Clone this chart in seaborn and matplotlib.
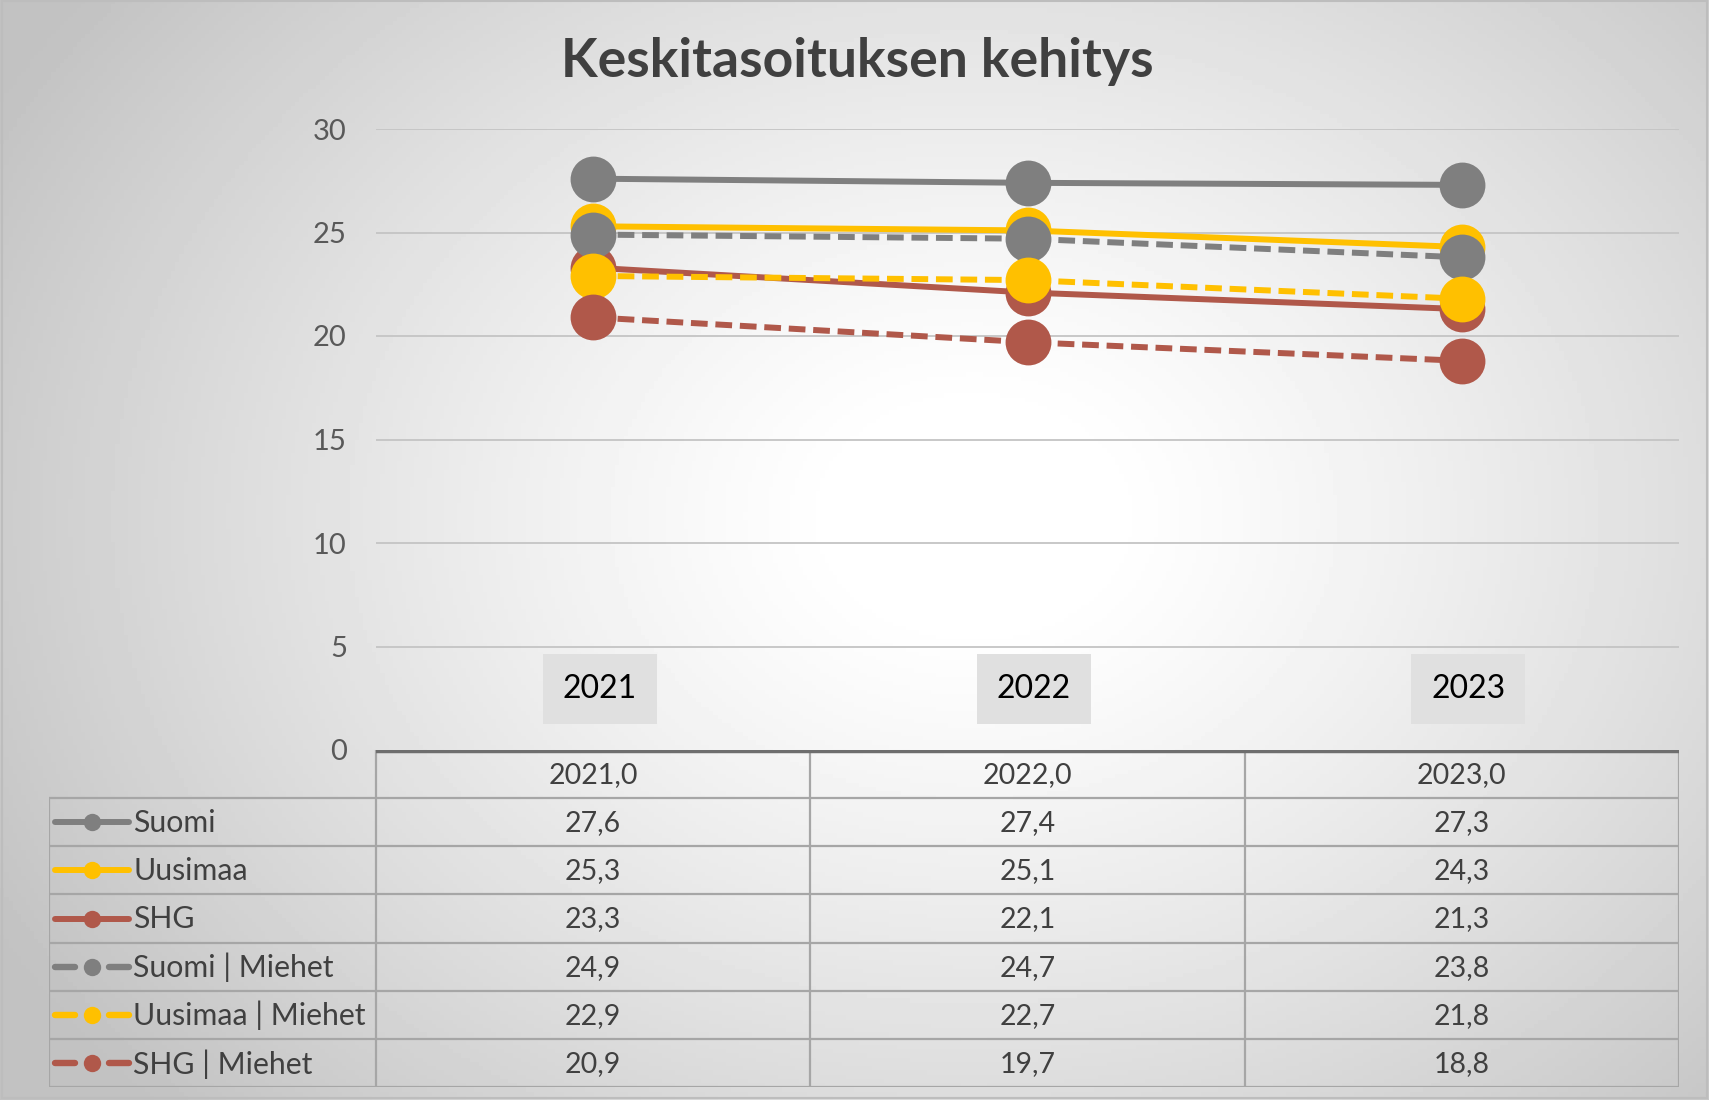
import numpy as np
import pandas as pd
import matplotlib
matplotlib.use("Agg")
import matplotlib.pyplot as plt
from matplotlib.lines import Line2D
import seaborn as sns

# data
years = ["2021", "2022", "2023"]
year_headers = ["2021,0", "2022,0", "2023,0"]
series_names = ["Suomi", "Uusimaa", "SHG", "Suomi | Miehet", "Uusimaa | Miehet", "SHG | Miehet"]
suomi = [27.6, 27.4, 27.3]
uusimaa = [25.3, 25.1, 24.3]
shg = [23.3, 22.1, 21.3]
suomi_miehet = [24.9, 24.7, 23.8]
uusimaa_miehet = [22.9, 22.7, 21.8]
shg_miehet = [20.9, 19.7, 18.8]
yticks = [0, 5, 10, 15, 20, 25, 30]

values = [suomi, uusimaa, shg, suomi_miehet, uusimaa_miehet, shg_miehet]
df = pd.DataFrame(
    [(name, y, v) for name, vals in zip(series_names, values) for y, v in zip(years, vals)],
    columns=["series", "year", "value"],
)

GRAY = "#7f7f7f"
YELLOW = "#ffc000"
RED = "#b0584a"
TEXT = "#404040"
DASH = (2.8, 1.3)
palette = dict(zip(series_names, [GRAY, YELLOW, RED, GRAY, YELLOW, RED]))
dashes = dict(zip(series_names, ["", "", "", DASH, DASH, DASH]))
markers = dict(zip(series_names, ["o"] * 6))

sns.set_style("white")
plt.rcParams["font.family"] = ["Lato", "DejaVu Sans"]

W, H = 1709, 1100
fig = plt.figure(figsize=(W / 100, H / 100), dpi=100)

# radial gradient background
bg = fig.add_axes([0, 0, 1, 1], zorder=-10)
gx, gy = np.meshgrid(np.linspace(0, 1, 400), np.linspace(0, 1, 260))
r = np.sqrt(((gx - 0.57) / 0.62) ** 2 + ((gy - 0.47) / 0.75) ** 2)
shade = np.clip(1.0 - 0.26 * np.clip(r - 0.12, 0, None) ** 1.2, 0.76, 1.0)
bg.imshow(shade, cmap="gray", vmin=0, vmax=1, aspect="auto", extent=[0, 1, 1, 0])
bg.axis("off")
bg.add_patch(plt.Rectangle((0.001, 0.001), 0.998, 0.997, fill=False, ec="#bdbdbd", lw=1.5))

# chart area
L, R, T, B = 376, 1679, 129, 750
ax = fig.add_axes([L / W, 1 - B / H, (R - L) / W, (B - T) / H])
ax.set_facecolor("none")
sns.lineplot(
    data=df, x="year", y="value", hue="series", style="series",
    hue_order=series_names, style_order=series_names,
    palette=palette, dashes=dashes, markers=markers,
    lw=4.3, markersize=33, markeredgewidth=0, legend=False, ax=ax, zorder=3,
)
ax.set_xlim(-0.5, len(years) - 0.5)
ax.set_ylim(0, 30)
ax.set_yticks(yticks)
ax.set_xticks([])
ax.set_xlabel("")
ax.set_ylabel("")
ax.tick_params(axis="y", length=0, pad=21, labelsize=21, labelcolor="#595959")
for yv in yticks[1:]:
    ax.axhline(yv, color="#c4c4c4", lw=1.3, zorder=1)
for s in ax.spines.values():
    s.set_visible(False)

for i, y in enumerate(years):
    ax.text(i + 0.015, 2.95, y, ha="center", va="center", fontsize=23, color="black",
            bbox=dict(boxstyle="square,pad=0.62", fc="#e0e0e0", ec="none"), zorder=4)

fig.text(857 / W, 1 - 61 / H, "Keskitasoituksen kehitys", ha="center", va="center",
         fontsize=38.5, fontweight="bold", color=TEXT)

# data table with legend keys
TL, TB = 49, 1087
unit = (R - L) / len(years)
x_left = -0.5 - (L - TL) / unit
nrows = len(series_names) + 1
tab = fig.add_axes([TL / W, 1 - TB / H, (R - TL) / W, (TB - B) / H])
tab.set_xlim(x_left, len(years) - 0.5)
tab.set_ylim(nrows, 0)
tab.axis("off")

def px(p):
    return -0.5 + (p - L) / unit

line_c = "#a6a6a6"
for rr in range(1, nrows + 1):
    tab.plot([x_left, len(years) - 0.5], [rr, rr], color=line_c, lw=1.6, solid_capstyle="butt")
for c in range(len(years) + 1):
    tab.plot([c - 0.5, c - 0.5], [0, nrows], color=line_c, lw=1.6)
tab.plot([x_left, x_left], [1, nrows], color=line_c, lw=1.6)
tab.plot([-0.5, len(years) - 0.5], [0.03, 0.03], color="#6e6e6e", lw=3.2, solid_capstyle="butt")

for i, h in enumerate(year_headers):
    tab.text(i, 0.52, h, ha="center", va="center", fontsize=20.5, color=TEXT)
for rr, (name, vals) in enumerate(zip(series_names, values), start=1):
    for i, v in enumerate(vals):
        tab.text(i, rr + 0.52, f"{v:.1f}".replace(".", ","), ha="center", va="center",
                 fontsize=20.5, color=TEXT)
    yk = rr + 0.5
    if dashes[name]:
        for a, b in [(55, 75), (109, 129)]:
            tab.add_line(Line2D([px(a), px(b)], [yk, yk], color=palette[name], lw=4.6,
                                solid_capstyle="round"))
    else:
        tab.add_line(Line2D([px(55), px(129)], [yk, yk], color=palette[name], lw=4.3,
                            solid_capstyle="round"))
    tab.add_line(Line2D([px(92)], [yk], marker="o", markersize=12.5, color=palette[name],
                        markeredgewidth=0))
    tab.text(px(133), rr + 0.52, name, ha="left", va="center", fontsize=21.8, color=TEXT)

fig.savefig("out.png", dpi=100)
